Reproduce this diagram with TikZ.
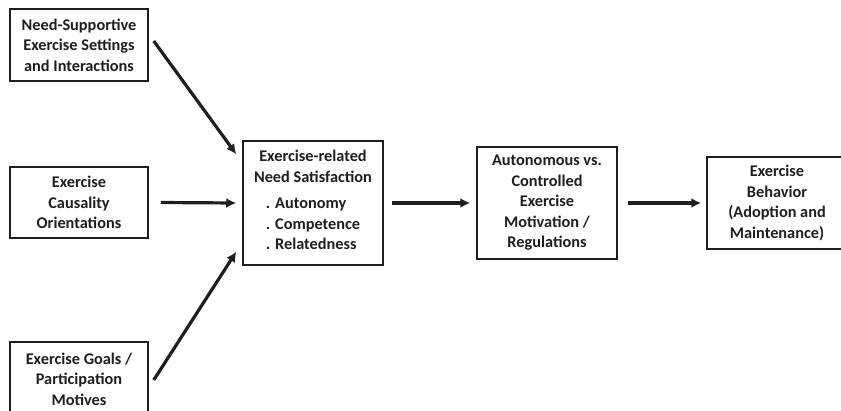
\documentclass[tikz,border=0pt]{standalone}
\usepackage{fontspec}
\setmainfont{Carlito}
\usetikzlibrary{arrows.meta}
\definecolor{ink}{HTML}{1E1E1E}
\tikzset{
  box/.style={draw=ink, line width=1.5pt, align=center, text=ink,
    minimum width=138pt, inner sep=0pt,
    font=\fontsize{16.3}{20.5}\selectfont\bfseries},
  arr/.style={draw=ink, line width=3.2pt, -{Latex[length=10pt,width=10pt]}}
}
\begin{document}
\begin{tikzpicture}[x=1pt,y=-1pt]
\useasboundingbox (0,0) rectangle (841,410);
\begin{scope}
\clip (0,0) rectangle (841,410);
\node[box, minimum height=72pt] (b1) at (79,45) {Need-Supportive\\Exercise Settings\\and Interactions};
\node[box, minimum height=71pt] (b2) at (79,202.5) {Exercise\\Causality\\Orientations};
\node[box, minimum height=74pt] (b3) at (79,379) {Exercise Goals /\\Participation\\Motives};
\node[box, minimum width=140pt, minimum height=124pt] (b4) at (313,203) {Exercise-related\\Need Satisfaction\\[11pt]\begin{tabular}{@{}l@{}}. Autonomy\\. Competence\\. Relatedness\end{tabular}};
\node[box, minimum width=140pt, minimum height=112pt] (b5) at (547,203) {Autonomous vs.\\Controlled\\Exercise\\Motivation /\\Regulations};
\node[box, minimum width=140pt, minimum height=92pt] (b6) at (777,203) {Exercise\\Behavior\\(Adoption and\\Maintenance)};
\end{scope}
\draw[arr] ([xshift=5pt,yshift=4pt]b1.east) -- ([xshift=-6pt,yshift=-14pt]b4.north west);
\draw[arr] ([xshift=12pt]b2.east) -- ([xshift=-6pt]b4.west);
\draw[arr] ([xshift=5pt,yshift=-1pt]b3.east) -- ([xshift=-6pt,yshift=14pt]b4.south west);
\draw[arr] ([xshift=8pt]b4.east) -- ([xshift=-6pt]b5.west);
\draw[arr] ([xshift=10pt]b5.east) -- ([xshift=-5pt]b6.west);
\end{tikzpicture}
\end{document}
